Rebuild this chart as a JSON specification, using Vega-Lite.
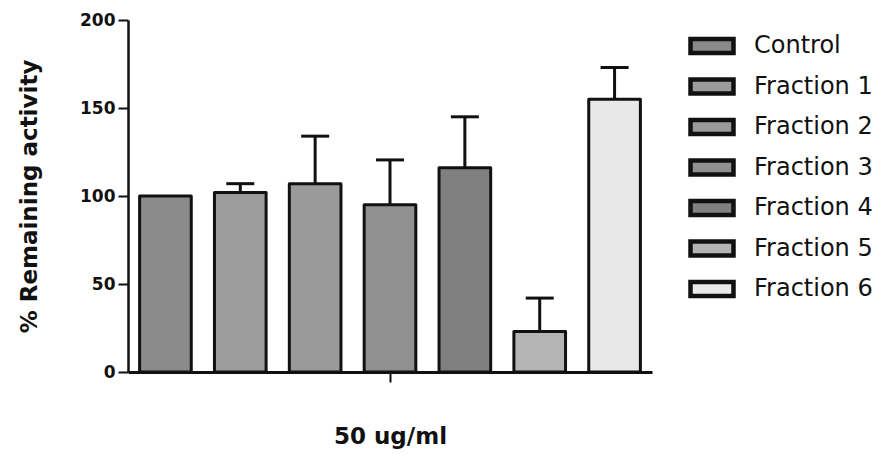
{
  "$schema": "https://vega.github.io/schema/vega-lite/v6.json",
  "width": 524,
  "height": 352,
  "autosize": {"type": "none"},
  "padding": {"left": 128, "top": 20, "right": 230, "bottom": 83},
  "background": "white",
  "config": {
    "view": {"stroke": null},
    "font": "DejaVu Sans"
  },
  "data": {
    "values": [
      {"dose": "50 ug/ml", "fraction": "Control", "mean": 100, "upper": null},
      {"dose": "50 ug/ml", "fraction": "Fraction 1", "mean": 102, "upper": 107},
      {"dose": "50 ug/ml", "fraction": "Fraction 2", "mean": 107, "upper": 134},
      {"dose": "50 ug/ml", "fraction": "Fraction 3", "mean": 95, "upper": 120.5},
      {"dose": "50 ug/ml", "fraction": "Fraction 4", "mean": 116, "upper": 145},
      {"dose": "50 ug/ml", "fraction": "Fraction 5", "mean": 23, "upper": 42},
      {"dose": "50 ug/ml", "fraction": "Fraction 6", "mean": 155, "upper": 173}
    ]
  },
  "encoding": {
    "x": {
      "field": "dose", "type": "nominal",
      "scale": {"paddingInner": 0, "paddingOuter": 0},
      "axis": {
        "title": "50 ug/ml", "labels": false, "domainWidth": 3, "domainColor": "#111",
        "tickColor": "#111", "tickWidth": 2, "tickSize": 10,
        "titleFont": "DejaVu Sans", "titleFontSize": 23, "titleFontWeight": "bold",
        "titleColor": "#111", "titlePadding": 42
      }
    },
    "xOffset": {
      "field": "fraction", "type": "nominal",
      "scale": {"paddingInner": 0.31, "paddingOuter": 0.155}
    }
  },
  "layer": [
    {
      "mark": {"type": "rule", "stroke": "#111", "strokeWidth": 3},
      "encoding": {
        "y": {"field": "mean", "type": "quantitative"},
        "y2": {"field": "upper"}
      }
    },
    {
      "mark": {"type": "tick", "orient": "horizontal", "color": "#111", "thickness": 3, "size": 28, "opacity": 1},
      "encoding": {
        "y": {"field": "upper", "type": "quantitative"}
      }
    },
    {
      "mark": {"type": "bar", "stroke": "#111", "strokeWidth": 3, "strokeJoin": "round", "fillOpacity": 1},
      "encoding": {
        "y": {
          "field": "mean", "type": "quantitative",
          "scale": {"domain": [0, 200], "nice": false},
          "axis": {
            "title": "% Remaining activity", "values": [0, 50, 100, 150, 200],
            "grid": false, "domainWidth": 2.5, "domainColor": "#111",
            "tickColor": "#111", "tickWidth": 2, "tickSize": 10,
            "labelFont": "DejaVu Sans", "labelFontSize": 17, "labelFontWeight": "bold",
            "labelColor": "#111", "labelPadding": 3,
            "titleFont": "DejaVu Sans", "titleFontSize": 23, "titleFontWeight": "bold",
            "titleColor": "#111", "titlePadding": 38
          }
        },
        "fill": {
          "field": "fraction", "type": "nominal",
          "scale": {
            "domain": ["Control", "Fraction 1", "Fraction 2", "Fraction 3", "Fraction 4", "Fraction 5", "Fraction 6"],
            "range": ["#8a8a8a", "#9c9c9c", "#9a9a9a", "#909090", "#808080", "#b4b4b4", "#e8e8e8"]
          },
          "legend": {
            "title": null, "orient": "none", "legendX": 560, "legendY": 2,
            "symbolType": "M-1,-0.32H1V0.32H-1Z", "symbolSize": 1849,
            "symbolStrokeColor": "#111", "symbolStrokeWidth": 4.5, "symbolOpacity": 1,
            "labelFont": "DejaVu Sans", "labelFontSize": 24, "labelColor": "#111",
            "labelOffset": 18, "rowPadding": 0.5, "labelLimit": 300
          }
        }
      }
    }
  ]
}
